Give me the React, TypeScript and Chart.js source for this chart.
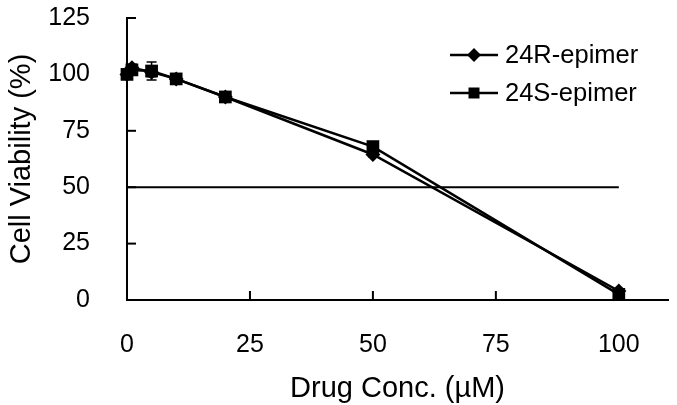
import React, { useEffect, useRef } from "react";
import { Chart, registerables } from "chart.js";

Chart.register(...registerables);

const concentrations = [0, 1, 5, 10, 20, 50, 100];
const viability24R = [100, 103, 101, 98, 90, 64.5, 4];
const viability24S = [100, 102, 101.5, 98, 90, 68, 2.5];
const err24R = [1.5, 1.5, 2, 1, 1, 1, 1];
const err24S = [1.5, 1.5, 4, 1, 1, 1, 0.5];
const refLineX = [0, 100];
const refLineY = [50, 50];
const xTickValues = [0, 25, 50, 75, 100];
const yTickValues = [0, 25, 50, 75, 100, 125];
const seriesNames = ["24R-epimer", "24S-epimer"];

const FONT = "'Liberation Sans', Arial, Helvetica, sans-serif";

const extrasPlugin = {
  id: "extras",
  beforeDatasetsDraw(chart: any) {
    const { ctx, scales } = chart;
    const xs = scales.x;
    const ys = scales.y;
    ctx.save();
    ctx.strokeStyle = "#000";
    ctx.lineWidth = 2;
    xTickValues.forEach((v) => {
      if (v === 0) return;
      const px = xs.getPixelForValue(v);
      ctx.beginPath();
      ctx.moveTo(px, ys.bottom);
      ctx.lineTo(px, ys.bottom - 9);
      ctx.stroke();
    });
    yTickValues.forEach((v) => {
      if (v === 0) return;
      const py = ys.getPixelForValue(v);
      ctx.beginPath();
      ctx.moveTo(xs.left, py);
      ctx.lineTo(xs.left + 9, py);
      ctx.stroke();
    });
    ctx.lineWidth = 1.5;
    const draw = (vals: number[], errs: number[]) => {
      vals.forEach((v, i) => {
        const px = xs.getPixelForValue(concentrations[i]);
        const top = ys.getPixelForValue(v + errs[i]);
        const bot = ys.getPixelForValue(v - errs[i]);
        ctx.beginPath();
        ctx.moveTo(px, top);
        ctx.lineTo(px, bot);
        ctx.moveTo(px - 5, top);
        ctx.lineTo(px + 5, top);
        ctx.moveTo(px - 5, bot);
        ctx.lineTo(px + 5, bot);
        ctx.stroke();
      });
    };
    draw(viability24R, err24R);
    draw(viability24S, err24S);
    ctx.restore();
  },
  afterDraw(chart: any) {
    const { ctx } = chart;
    const ds = chart.data.datasets;
    const rows = [55, 93];
    ctx.save();
    [0, 1].forEach((i) => {
      const y = rows[i];
      const d = ds[i];
      ctx.strokeStyle = "#000";
      ctx.lineWidth = 2.5;
      ctx.beginPath();
      ctx.moveTo(450, y);
      ctx.lineTo(498, y);
      ctx.stroke();
      ctx.fillStyle = "#000";
      ctx.beginPath();
      if (d.pointStyle === "rectRot") {
        const r = 7;
        ctx.moveTo(474, y - r);
        ctx.lineTo(474 + r, y);
        ctx.lineTo(474, y + r);
        ctx.lineTo(474 - r, y);
        ctx.closePath();
      } else {
        const s = 5.5;
        ctx.rect(474 - s, y - s, 2 * s, 2 * s);
      }
      ctx.fill();
      ctx.font = `25.5px ${FONT}`;
      ctx.textBaseline = "middle";
      ctx.textAlign = "left";
      ctx.fillText(seriesNames[i], 505, y + 1);
    });
    ctx.restore();
  },
};

export default function App() {
  const ref = useRef<HTMLCanvasElement | null>(null);
  useEffect(() => {
    if (!ref.current) return;
    const toPts = (xs: number[], ys: number[]) => xs.map((x, i) => ({ x, y: ys[i] }));
    const chart = new Chart(ref.current, {
      type: "scatter",
      data: {
        datasets: [
          {
            label: seriesNames[0],
            data: toPts(concentrations, viability24R),
            showLine: true,
            borderColor: "#000",
            backgroundColor: "#000",
            borderWidth: 2.5,
            pointStyle: "rectRot",
            pointRadius: 7.5,
            pointBorderWidth: 0,
            clip: false,
          } as any,
          {
            label: seriesNames[1],
            data: toPts(concentrations, viability24S),
            showLine: true,
            borderColor: "#000",
            backgroundColor: "#000",
            borderWidth: 2.5,
            pointStyle: "rect",
            pointRadius: 9,
            pointBorderWidth: 0,
            clip: false,
          } as any,
          {
            label: "ref",
            data: toPts(refLineX, refLineY),
            showLine: true,
            borderColor: "#000",
            borderWidth: 2,
            pointRadius: 0,
            clip: false,
          } as any,
        ],
      },
      options: {
        animation: false,
        responsive: false,
        maintainAspectRatio: false,
        layout: { padding: { top: 18, right: 9, left: 0, bottom: 0 } },
        plugins: {
          legend: { display: false },
          tooltip: { enabled: false },
        },
        scales: {
          x: {
            type: "linear",
            min: 0,
            max: 110,
            afterFit: (s: any) => {
              s.height = 105;
              s.paddingLeft = 0;
              s.paddingRight = 0;
            },
            afterBuildTicks: (s: any) => {
              s.ticks = xTickValues.map((v) => ({ value: v }));
            },
            grid: { display: false },
            border: { display: true, color: "#000", width: 2 },
            ticks: {
              color: "#000",
              padding: 22,
              maxRotation: 0,
              font: { family: FONT, size: 25 },
            },
            title: {
              display: true,
              text: "Drug Conc. (µM)",
              color: "#000",
              font: { family: FONT, size: 29, lineHeight: 1 },
              padding: { top: 0, bottom: 2 },
            },
          },
          y: {
            type: "linear",
            min: 0,
            max: 125,
            afterFit: (s: any) => {
              s.width = 127;
              s.paddingTop = 0;
              s.paddingBottom = 0;
            },
            afterBuildTicks: (s: any) => {
              s.ticks = yTickValues.map((v) => ({ value: v }));
            },
            grid: { display: false },
            border: { display: true, color: "#000", width: 2 },
            ticks: {
              color: "#000",
              padding: 29,
              font: { family: FONT, size: 25 },
            },
            title: {
              display: true,
              text: "Cell Viability (%)",
              color: "#000",
              font: { family: FONT, size: 29, lineHeight: 1 },
              padding: { top: 7, bottom: 0 },
            },
          },
        },
      },
      plugins: [extrasPlugin],
    });
    return () => chart.destroy();
  }, []);
  return (
    <div style={{ position: "fixed", left: 0, top: 0, width: 677, height: 405, background: "#fff" }}>
      <canvas ref={ref} width={677} height={405} style={{ width: 677, height: 405 }} />
    </div>
  );
}
